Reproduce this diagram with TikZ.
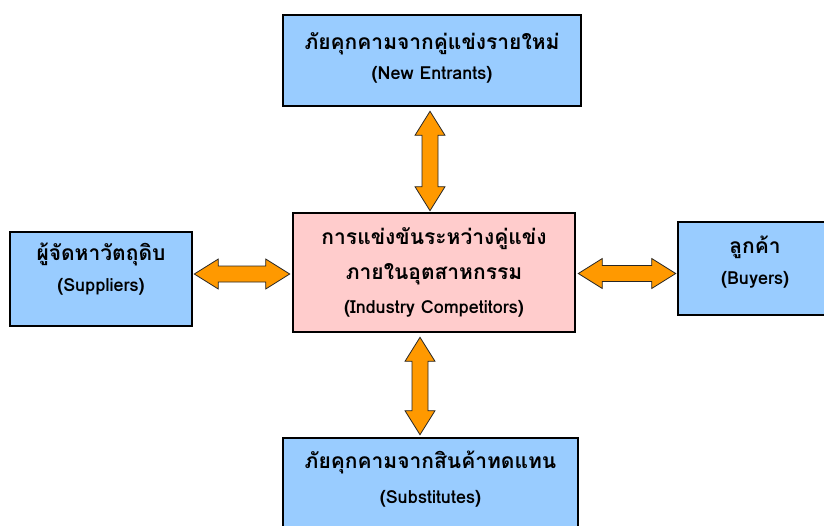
\documentclass[tikz,border=0pt]{standalone}
\usepackage{fontspec}
\newfontfamily\thaifont[Script=Thai]{Loma}
\usetikzlibrary{calc}
\definecolor{boxblue}{HTML}{99CCFF}
\definecolor{boxpink}{HTML}{FFCCCC}
\definecolor{arroworange}{HTML}{FF9900}
\newcommand{\thl}[1]{{\fontsize{21}{31}\selectfont #1}}
\tikzset{
  forcebox/.style={draw=black, line width=2.6pt, fill=boxblue, align=center,
    inner sep=0pt, font=\thaifont\bfseries\fontsize{18}{31}\selectfont},
  rivalbox/.style={forcebox, fill=boxpink},
  % outlined double-headed block arrow between two points
  bigarrow/.style={draw=black!85, line width=0.8pt, fill=arroworange, line join=miter,
    to path={let \p1=($(\tikztotarget)-(\tikztostart)$), \n1={atan2(\y1,\x1)} in
      (\tikztostart)
      -- ($(\tikztostart)+(\n1:24pt)+(\n1+90:15pt)$)
      -- ($(\tikztostart)+(\n1:24pt)+(\n1+90:8pt)$)
      -- ($(\tikztotarget)+(\n1:-24pt)+(\n1+90:8pt)$)
      -- ($(\tikztotarget)+(\n1:-24pt)+(\n1+90:15pt)$)
      -- (\tikztotarget)
      -- ($(\tikztotarget)+(\n1:-24pt)+(\n1-90:15pt)$)
      -- ($(\tikztotarget)+(\n1:-24pt)+(\n1-90:8pt)$)
      -- ($(\tikztostart)+(\n1:24pt)+(\n1-90:8pt)$)
      -- ($(\tikztostart)+(\n1:24pt)+(\n1-90:15pt)$)
      -- cycle}}
}
\begin{document}
\begin{tikzpicture}[x=1pt, y=-1pt]
  \useasboundingbox[fill=white] (0,0) rectangle (824,525);
  \begin{scope}
    \clip (0,0) rectangle (824,525);

    \node[forcebox, minimum width=298pt, minimum height=91pt, text depth=8.5pt] (newent) at (432,60.5)
      {\thl{ภัยคุกคามจากคู่แข่งรายใหม่}\\[-1pt](New Entrants)};
    \node[forcebox, minimum width=182pt, minimum height=94pt, text depth=24pt] (supp) at (101,279)
      {\thl{ผู้จัดหาวัตถุดิบ}\\(Suppliers)};
    \node[rivalbox, minimum width=282pt, minimum height=119pt, font=\thaifont\bfseries\fontsize{18}{35}\selectfont] (rival) at (434,272.5)
      {\thl{การแข่งขันระหว่างคู่แข่ง}\\\thl{ภายในอุตสาหกรรม}\\[-1pt](Industry Competitors)};
    \node[forcebox, minimum width=154pt, minimum height=93pt, text depth=16pt] (buy) at (755,268.5)
      {\thl{ลูกค้า}\\(Buyers)};
    \node[forcebox, minimum width=295pt, minimum height=91pt, text depth=12.5pt, font=\thaifont\bfseries\fontsize{18}{35}\selectfont] (subst) at (430.5,483.5)
      {\thl{ภัยคุกคามจากสินค้าทดแทน}\\(Substitutes)};

    % anchor points for the four connectors
    \coordinate (ntop) at ([xshift=-2pt]newent.south);
    \coordinate (nbot) at ([xshift=-14pt]rival.south);
    \coordinate (nleft) at ([yshift=5pt]supp.east);
    \coordinate (nright) at ([yshift=-5pt]buy.west);

    \draw[bigarrow] ([yshift=-4pt]ntop) to ([yshift=1pt]rival.north -| ntop);
    \draw[bigarrow] ([yshift=-4pt]nbot) to ([yshift=2pt]subst.north -| nbot);
    \draw[bigarrow] ([xshift=1pt]nleft) to ([xshift=-2pt]rival.west |- nleft);
    \draw[bigarrow] ([xshift=2pt]rival.east |- nright) to ([xshift=-1pt]nright);
  \end{scope}
\end{tikzpicture}
\end{document}
